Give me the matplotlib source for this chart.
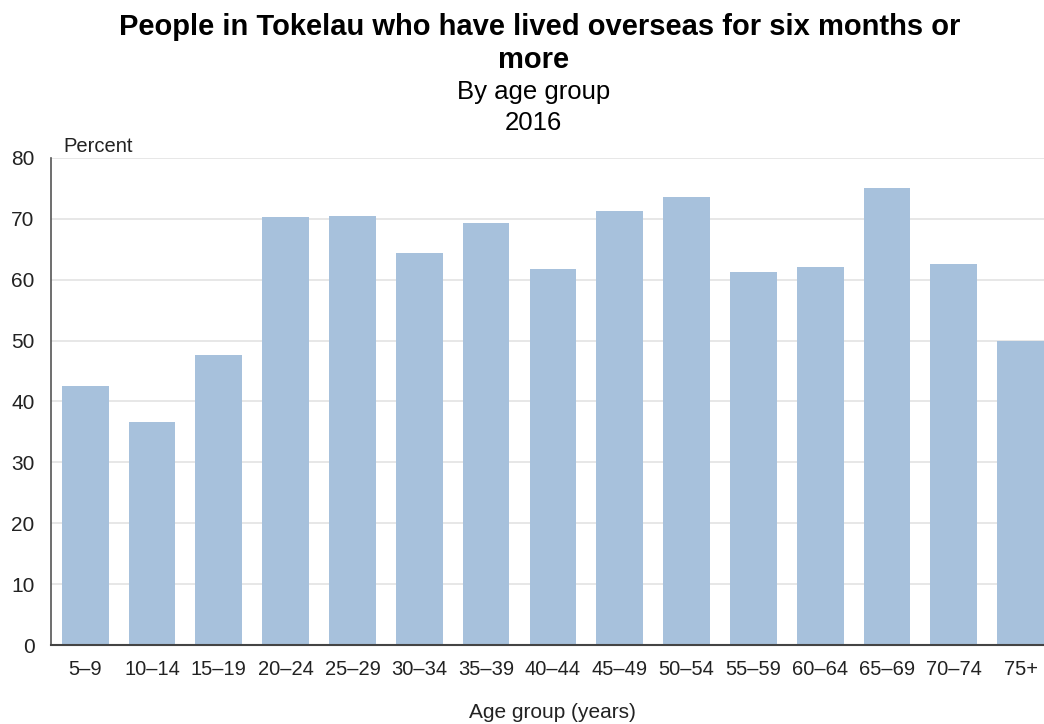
import matplotlib
matplotlib.use('Agg')
import matplotlib.pyplot as plt
import numpy as np

plt.rcParams['font.family'] = ['Liberation Sans', 'DejaVu Sans']

# Share of people (%) who have lived overseas 6+ months, by age group
age_groups = ['5–9', '10–14', '15–19', '20–24', '25–29', '30–34', '35–39', '40–44',
              '45–49', '50–54', '55–59', '60–64', '65–69', '70–74', '75+']
percent = [42.5, 36.7, 47.7, 70.3, 70.5, 64.4, 69.3, 61.8,
           71.3, 73.6, 61.3, 62.0, 75.1, 62.6, 50.0]
y_ticks = [0, 10, 20, 30, 40, 50, 60, 70, 80]

fig = plt.figure(figsize=(10.44, 7.24), dpi=100)
ax = fig.add_axes([0.049, 0.109, 0.951, 0.673])

x = np.arange(len(age_groups))
ax.bar(x, percent, width=0.70, color='#a7c1dc', zorder=2)

ax.set_xlim(-0.51, 14.35)
ax.set_ylim(0, 80)
ax.set_yticks(y_ticks)
ax.set_xticks(x)
ax.set_xticklabels(age_groups)
ax.tick_params(axis='both', length=0, colors='#222222')
ax.tick_params(axis='x', pad=11, labelsize=14.5)
ax.tick_params(axis='y', pad=12, labelsize=15)
ax.grid(axis='y', color='#e3e3e3', lw=1.2, zorder=0)

for s in ['top', 'right']:
    ax.spines[s].set_visible(False)
ax.spines['left'].set_color('#555555')
ax.spines['bottom'].set_color('#444444')
ax.spines['left'].set_linewidth(1.2)
ax.spines['bottom'].set_linewidth(1.5)

fig.text(0.529, 1 - 718 / 724, 'Age group (years)', ha='center', va='baseline',
         fontsize=15, color='#222222')
fig.text(0.061, 1 - 152 / 724, 'Percent', ha='left', va='baseline',
         fontsize=14.5, color='#222222')

fig.text(0.517, 1 - 35 / 724, 'People in Tokelau who have lived overseas for six months or',
         ha='center', va='baseline', fontsize=21, fontweight='bold')
fig.text(0.511, 1 - 68 / 724, 'more', ha='center', va='baseline',
         fontsize=21, fontweight='bold')
fig.text(0.511, 1 - 99 / 724, 'By age group', ha='center', va='baseline', fontsize=18.5)
fig.text(0.511, 1 - 130 / 724, '2016', ha='center', va='baseline', fontsize=18.5)

plt.savefig('out.png', dpi=100)
plt.close()
